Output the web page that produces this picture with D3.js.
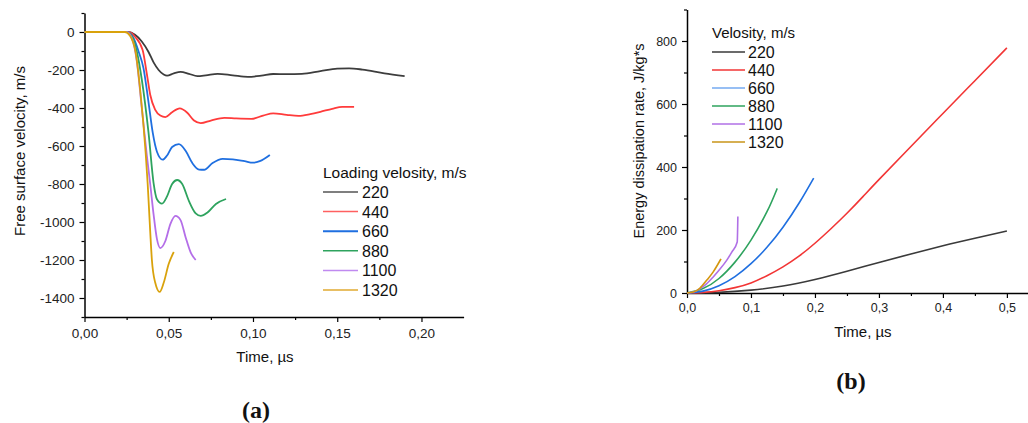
<!DOCTYPE html>
<html>
<head>
<meta charset="utf-8">
<script src="https://cdn.jsdelivr.net/npm/d3@7"></script>
<style>
  html, body { margin: 0; padding: 0; background: #ffffff; }
  svg { display: block; font-family: "Liberation Sans", Arial, sans-serif; }
</style>
</head>
<body>
<svg id="fig" width="1028" height="423"></svg>
<script>
// ---- Panel (a): free surface velocity vs time ----
const loadingVelocities = [220, 440, 660, 880, 1100, 1320];
const seriesColorsA = ["#3d3d3d", "#ff3b3b", "#1f6fe0", "#2ea35e", "#b46ee8", "#d9a20c"];
const legendColorsA = ["#555555", "#ff6060", "#1f6fe0", "#2ea35e", "#c08af0", "#e0aa30"];

const fsv220 = [[0,0],[0.026,0],[0.030,-15],[0.034,-50],[0.038,-105],[0.041,-160],[0.044,-200],[0.047,-224],[0.049,-230],[0.053,-218],[0.057,-210],[0.062,-220],[0.067,-232],[0.072,-228],[0.079,-220],[0.088,-228],[0.097,-236],[0.105,-230],[0.112,-221],[0.120,-222],[0.129,-220],[0.140,-206],[0.150,-193],[0.157,-191],[0.165,-198],[0.178,-218],[0.190,-232]];
const fsv440 = [[0,0],[0.026,0],[0.030,-25],[0.0345,-95],[0.037,-220],[0.039,-330],[0.042,-410],[0.045,-440],[0.048,-448],[0.052,-422],[0.0565,-402],[0.061,-425],[0.065,-466],[0.069,-480],[0.075,-466],[0.083,-452],[0.090,-455],[0.099,-457],[0.106,-440],[0.112,-428],[0.120,-436],[0.127,-441],[0.134,-432],[0.140,-420],[0.147,-404],[0.153,-394],[0.160,-394]];
const fsv660 = [[0,0],[0.025,0],[0.029,-30],[0.032,-100],[0.035,-190],[0.038,-370],[0.0405,-530],[0.043,-630],[0.0464,-672],[0.049,-650],[0.052,-605],[0.056,-590],[0.060,-625],[0.064,-690],[0.068,-724],[0.071,-725],[0.076,-690],[0.082,-668],[0.088,-670],[0.095,-680],[0.100,-688],[0.104,-680],[0.110,-647]];
const fsv880 = [[0,0],[0.025,0],[0.028,-20],[0.031,-100],[0.034,-250],[0.038,-530],[0.041,-795],[0.043,-880],[0.046,-903],[0.049,-865],[0.052,-800],[0.055,-779],[0.058,-800],[0.062,-890],[0.066,-955],[0.069,-968],[0.073,-950],[0.078,-905],[0.084,-879]];
const fsv1100 = [[0,0],[0.025,0],[0.028,-30],[0.031,-150],[0.034,-400],[0.037,-650],[0.039,-800],[0.041,-960],[0.043,-1090],[0.045,-1137],[0.048,-1100],[0.051,-1010],[0.054,-968],[0.057,-990],[0.060,-1080],[0.063,-1160],[0.066,-1200]];
const fsv1320 = [[0,0],[0.024,0],[0.027,-20],[0.0304,-110],[0.033,-300],[0.0363,-637],[0.0375,-800],[0.039,-1050],[0.040,-1200],[0.042,-1320],[0.0446,-1368],[0.047,-1320],[0.050,-1220],[0.053,-1158]];
const velocitySeries = [fsv220, fsv440, fsv660, fsv880, fsv1100, fsv1320];

const timeTicksA = [0, 0.05, 0.10, 0.15, 0.20];
const velocityTicks = [0, -200, -400, -600, -800, -1000, -1200, -1400];

// ---- Panel (b): energy dissipation rate vs time ----
const seriesColorsB = ["#3a3a3a", "#f23535", "#1f6fe0", "#2ea35e", "#b070e6", "#d4960e"];
const legendColorsB = ["#3a3a3a", "#f23535", "#74aaf0", "#2ea35e", "#b070e6", "#c99418"];

const edr220 = [[0,0],[0.05,2],[0.1,9],[0.15,22],[0.2,43],[0.25,69],[0.3,97],[0.35,124],[0.4,150],[0.45,174],[0.5,197]];
const edr440 = [[0,0],[0.025,2],[0.05,7],[0.075,17],[0.1,32],[0.125,55],[0.15,83],[0.175,117],[0.2,158],[0.225,204],[0.25,253],[0.275,306],[0.3,360],[0.35,465],[0.4,570],[0.45,674],[0.5,778]];
const edr660 = [[0,0],[0.025,6],[0.05,23],[0.075,52],[0.1,93],[0.125,145],[0.15,209],[0.175,285],[0.198,365]];
const edr880 = [[0,0],[0.025,14],[0.05,46],[0.075,98],[0.1,168],[0.125,258],[0.141,332]];
const edr1100 = [[0,0],[0.01,3],[0.02,13],[0.03,28],[0.041,51],[0.05,72],[0.0625,105],[0.07,130],[0.0785,162],[0.0795,243]];
const edr1320 = [[0,0],[0.01,3],[0.02,15],[0.031,41],[0.041,67],[0.053,108]];
const dissipationSeries = [edr220, edr440, edr660, edr880, edr1100, edr1320];

const timeTicksB = [0, 0.1, 0.2, 0.3, 0.4, 0.5];
const dissipationTicks = [0, 200, 400, 600, 800];

const svg = d3.select("#fig");
const commaFmt = d => d.toFixed(2).replace(".", ",");
const commaFmt1 = d => d.toFixed(1).replace(".", ",");

function styleAxis(g, fontSize) {
  g.select(".domain").attr("stroke", "#000").attr("stroke-width", 1.5);
  g.selectAll(".tick line").attr("stroke", "#000").attr("stroke-width", 1.2);
  g.selectAll(".tick text").attr("fill", "#222").style("font-size", fontSize + "px")
    .style("font-family", "'Liberation Sans', Arial, sans-serif");
}
function minorStyle(g) {
  g.select(".domain").remove();
  g.selectAll(".tick line").attr("stroke", "#000").attr("stroke-width", 1.2);
}

// ---------- Panel (a) ----------
const xA = d3.scaleLinear().domain([0, 0.225]).range([84.5, 463.6]);
const yA = d3.scaleLinear().domain([-1500, 100]).range([317, 13]);

const gA = svg.append("g");
gA.append("g").attr("transform", `translate(0,${yA(-1500)})`)
  .call(d3.axisBottom(xA).tickValues(d3.range(0.025, 0.225, 0.05)).tickSize(3).tickFormat("").tickSizeOuter(0))
  .call(minorStyle);
gA.append("g").attr("transform", `translate(${xA(0)},0)`)
  .call(d3.axisLeft(yA).tickValues(d3.range(-1500, 101, 200)).tickSize(3).tickFormat("").tickSizeOuter(0))
  .call(minorStyle);
gA.append("g").attr("transform", `translate(0,${yA(-1500)})`)
  .call(d3.axisBottom(xA).tickValues(timeTicksA).tickFormat(commaFmt).tickSize(5).tickSizeOuter(0).tickPadding(6))
  .call(g => styleAxis(g, 13.5));
gA.append("g").attr("transform", `translate(${xA(0)},0)`)
  .call(d3.axisLeft(yA).tickValues(velocityTicks).tickFormat(d => d === 0 ? "0" : "-" + Math.abs(d)).tickSize(5).tickSizeOuter(0).tickPadding(5))
  .call(g => styleAxis(g, 13.5));

const lineA = d3.line().x(d => xA(d[0])).y(d => yA(d[1])).curve(d3.curveMonotoneX);
velocitySeries.forEach((s, i) => {
  gA.append("path").datum(s).attr("d", lineA).attr("fill", "none")
    .attr("stroke", seriesColorsA[i]).attr("stroke-width", 1.8).attr("stroke-linejoin", "round");
});

gA.append("text").attr("transform", "translate(25,151) rotate(-90)").attr("text-anchor", "middle")
  .style("font-size", "15px").attr("fill", "#111").text("Free surface velocity, m/s");
gA.append("text").attr("x", 265).attr("y", 362).attr("text-anchor", "middle")
  .style("font-size", "15px").attr("fill", "#111").text("Time, µs");

const legA = gA.append("g");
legA.append("text").attr("x", 323).attr("y", 178).style("font-size", "15.5px").attr("fill", "#111")
  .text("Loading velosity, m/s");
loadingVelocities.forEach((v, i) => {
  const y = 192 + i * 19.6;
  legA.append("line").attr("x1", 323).attr("x2", 358).attr("y1", y).attr("y2", y)
    .attr("stroke", legendColorsA[i]).attr("stroke-width", i === 2 ? 2 : 1.5);
  legA.append("text").attr("x", 362).attr("y", y + 6).style("font-size", "16px").attr("fill", "#111").text(v);
});

svg.append("text").attr("x", 256).attr("y", 418).attr("text-anchor", "middle")
  .style("font-family", "'Liberation Serif', 'DejaVu Serif', serif").style("font-size", "24px")
  .style("font-weight", "bold").attr("fill", "#111").text("(a)");

// ---------- Panel (b) ----------
const xB = d3.scaleLinear().domain([0, 0.533]).range([687, 1028]);
const yB = d3.scaleLinear().domain([0, 900]).range([293, 9.5]);

const gB = svg.append("g");
gB.append("g").attr("transform", `translate(0,${yB(0)})`)
  .call(d3.axisBottom(xB).tickValues(d3.range(0.05, 0.53, 0.1)).tickSize(3).tickFormat("").tickSizeOuter(0))
  .call(minorStyle);
gB.append("g").attr("transform", `translate(${xB(0)},0)`)
  .call(d3.axisLeft(yB).tickValues(d3.range(100, 901, 200)).tickSize(3).tickFormat("").tickSizeOuter(0))
  .call(minorStyle);
gB.append("g").attr("transform", `translate(0,${yB(0)})`)
  .call(d3.axisBottom(xB).tickValues(timeTicksB).tickFormat(commaFmt1).tickSize(5).tickSizeOuter(0).tickPadding(5))
  .call(g => styleAxis(g, 12.5));
gB.append("g").attr("transform", `translate(${xB(0)},0)`)
  .call(d3.axisLeft(yB).tickValues(dissipationTicks).tickSize(5).tickSizeOuter(0).tickPadding(5))
  .call(g => styleAxis(g, 12.5));

const lineSmooth = d3.line().x(d => xB(d[0])).y(d => yB(d[1])).curve(d3.curveNatural);
const lineMono = d3.line().x(d => xB(d[0])).y(d => yB(d[1])).curve(d3.curveMonotoneX);
dissipationSeries.forEach((s, i) => {
  gB.append("path").datum(s).attr("d", i === 4 ? lineMono : lineSmooth).attr("fill", "none")
    .attr("stroke", seriesColorsB[i]).attr("stroke-width", 1.6).attr("stroke-linejoin", "round");
});

gB.append("text").attr("transform", "translate(644,141) rotate(-90)").attr("text-anchor", "middle")
  .style("font-size", "14.5px").attr("fill", "#111").text("Energy dissipation rate, J/kg*s");
gB.append("text").attr("x", 863).attr("y", 337).attr("text-anchor", "middle")
  .style("font-size", "15px").attr("fill", "#111").text("Time, µs");

const legB = gB.append("g");
legB.append("text").attr("x", 712).attr("y", 38).style("font-size", "15px").attr("fill", "#111")
  .text("Velosity, m/s");
loadingVelocities.forEach((v, i) => {
  const y = 52 + i * 18;
  legB.append("line").attr("x1", 712).attr("x2", 745).attr("y1", y).attr("y2", y)
    .attr("stroke", legendColorsB[i]).attr("stroke-width", 1.6);
  legB.append("text").attr("x", 748).attr("y", y + 6).style("font-size", "16px").attr("fill", "#111").text(v);
});

svg.append("text").attr("x", 851).attr("y", 389).attr("text-anchor", "middle")
  .style("font-family", "'Liberation Serif', 'DejaVu Serif', serif").style("font-size", "24px")
  .style("font-weight", "bold").attr("fill", "#111").text("(b)");
</script>
</body>
</html>
